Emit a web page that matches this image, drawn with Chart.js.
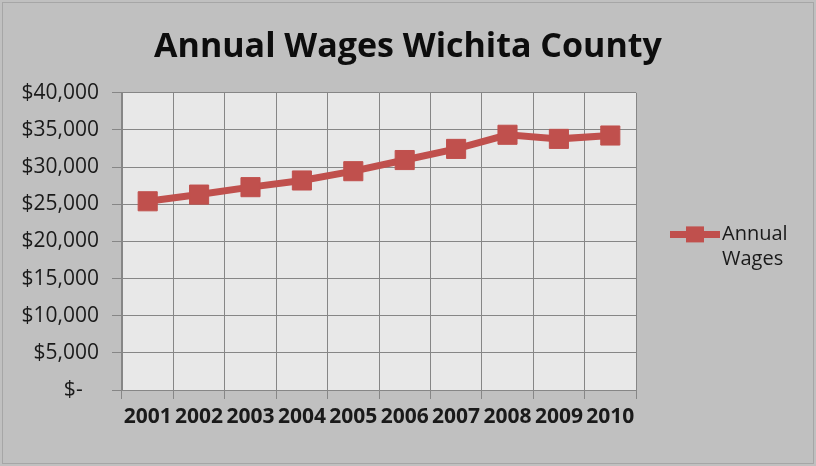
<!DOCTYPE html>
<html>
<head>
<meta charset="utf-8">
<script src="https://cdn.jsdelivr.net/npm/chart.js@4.4.1/dist/chart.umd.min.js"></script>
<style>
  html, body { margin: 0; padding: 0; background: #c0c0c0; }
  #wrap { width: 816px; height: 466px; }
</style>
</head>
<body>
<div id="wrap"><canvas id="wageChart" width="816" height="466"></canvas></div>
<script>
let years = ['2001', '2002', '2003', '2004', '2005', '2006', '2007', '2008', '2009', '2010'];
let wages = [25400, 26300, 27300, 28200, 29450, 30950, 32450, 34350, 33800, 34250];
let yTicks = [0, 5000, 10000, 15000, 20000, 25000, 30000, 35000, 40000];
let yTickLabels = ['$-   ', '$5,000', '$10,000', '$15,000', '$20,000', '$25,000', '$30,000', '$35,000', '$40,000'];

let lineRed = '#c0504d';
let fontName = "'Open Sans', 'Liberation Sans', sans-serif";

// grey frame, plot fill and the two-line legend on the right
let excelLook = {
    id: 'excelLook',
    beforeDraw: (chart) => {
        let ctx = chart.ctx;
        let a = chart.chartArea;
        ctx.save();
        ctx.fillStyle = '#c0c0c0';
        ctx.fillRect(0, 0, chart.width, chart.height);
        ctx.strokeStyle = '#a6a6a6';
        ctx.lineWidth = 1;
        ctx.strokeRect(2.5, 2.5, chart.width - 5, chart.height - 5);
        ctx.fillStyle = '#e8e8e8';
        ctx.fillRect(a.left, a.top, a.right - a.left, a.bottom - a.top);
        ctx.restore();
    },
    afterDraw: (chart) => {
        let ctx = chart.ctx;
        let a = chart.chartArea;
        let ly = (a.top + a.bottom) / 2 - 7;
        let lx = a.right + 34;
        ctx.save();
        ctx.strokeStyle = lineRed;
        ctx.lineWidth = 7;
        ctx.beginPath();
        ctx.moveTo(lx, ly);
        ctx.lineTo(lx + 50, ly);
        ctx.stroke();
        ctx.fillStyle = lineRed;
        ctx.fillRect(lx + 16, ly - 8, 18, 16);
        ctx.fillStyle = '#1a1a1a';
        ctx.font = '20px ' + fontName;
        ctx.textBaseline = 'middle';
        ctx.textAlign = 'left';
        ctx.fillText('Annual', lx + 52, ly);
        ctx.fillText('Wages', lx + 52, ly + 25);
        ctx.restore();
    }
};

let drawChart = () => {
    let ctx = document.getElementById('wageChart');
    new Chart(ctx, {
        type: 'line',
        data: {
            labels: years,
            datasets: [{
                label: 'Annual Wages',
                data: wages,
                borderColor: lineRed,
                backgroundColor: lineRed,
                borderWidth: 7,
                pointStyle: 'rect',
                pointRadius: 13.5,
                pointHoverRadius: 13.5,
                pointBorderWidth: 1,
                tension: 0
            }]
        },
        options: {
            responsive: false,
            animation: false,
            layout: { padding: 0 },
            plugins: {
                legend: { display: false },
                tooltip: { enabled: false },
                title: {
                    display: true,
                    text: 'Annual Wages Wichita County',
                    color: '#0d0d0d',
                    font: { family: fontName, size: 34, weight: 'bold' },
                    padding: { top: 27, bottom: 25 }
                }
            },
            scales: {
                x: {
                    offset: true,
                    grid: { offset: true, color: '#868686', tickLength: 9, drawTicks: true },
                    border: { color: '#868686' },
                    ticks: {
                        color: '#1a1a1a',
                        font: { family: fontName, size: 21, weight: 'bold' },
                        maxRotation: 0,
                        padding: 5
                    },
                    afterFit: (scale) => { scale.height = 76; }
                },
                y: {
                    min: 0,
                    max: 40000,
                    afterBuildTicks: (scale) => { scale.ticks = yTicks.map(v => ({ value: v })); },
                    grid: { color: '#868686', tickLength: 10 },
                    border: { color: '#868686' },
                    ticks: {
                        color: '#1a1a1a',
                        font: { family: fontName, size: 21 },
                        padding: 13,
                        callback: (value) => yTickLabels[yTicks.indexOf(value)]
                    },
                    afterFit: (scale) => { scale.width = 122; }
                },
                // empty right-hand column that leaves room for the legend
                yRight: {
                    position: 'right',
                    grid: { display: false },
                    border: { display: false },
                    ticks: { display: false },
                    afterFit: (scale) => { scale.width = 180; }
                }
            }
        },
        plugins: [excelLook]
    });
};

drawChart();
</script>
</body>
</html>
